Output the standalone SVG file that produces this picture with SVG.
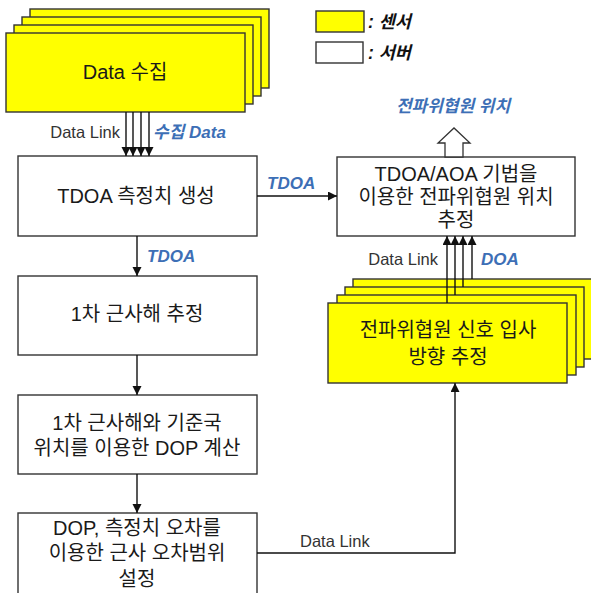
<svg xmlns="http://www.w3.org/2000/svg" width="591" height="593" viewBox="0 0 591 593">
<defs>
<marker id="ah" markerUnits="userSpaceOnUse" markerWidth="10" markerHeight="10" refX="9" refY="4.5" orient="auto">
<path d="M0,0 L9,4.5 L0,9 Z" fill="#111"/>
</marker>
<style>
.box{fill:#fff;stroke:#333;stroke-width:1.4}
.sen{fill:#ffff00;stroke:#333;stroke-width:1.4}
.t{font-family:"Liberation Sans","Noto Sans CJK KR",sans-serif;font-size:20px;fill:#1a1a1a;text-anchor:middle}
.s{font-family:"Liberation Sans","Noto Sans CJK KR",sans-serif;font-size:16.5px;fill:#333}
.b{font-family:"Liberation Sans","Noto Sans CJK KR",sans-serif;font-size:17px;fill:#3d6fb6;font-weight:bold;font-style:italic}
.lg{font-family:"Liberation Sans","Noto Sans CJK KR",sans-serif;font-size:17.5px;fill:#111;font-weight:bold;font-style:italic}
.c{fill:none;stroke:#111;stroke-width:1.4}
</style>
</defs>
<rect width="591" height="593" fill="#fff"/>

<g id="legend">
<rect x="316" y="11" width="48" height="21" class="sen"/>
<text x="368" y="28" class="lg">: 센서</text>
<rect x="316" y="42" width="47" height="21" class="box"/>
<text x="368" y="59" class="lg">: 서버</text>
</g>

<g id="data-collect">
<rect x="30" y="9" width="239" height="79" class="sen"/>
<rect x="22" y="17" width="239" height="79" class="sen"/>
<rect x="14" y="25" width="239" height="79" class="sen"/>
<rect x="6" y="33" width="239" height="79" class="sen"/>
<text x="125" y="79" class="t">Data 수집</text>
</g>

<g id="tdoa-gen">
<rect x="18" y="156" width="239" height="80" class="box"/>
<text x="136" y="203" class="t">TDOA 측정치 생성</text>
</g>

<g id="first-approx">
<rect x="18" y="276" width="239" height="79" class="box"/>
<text x="137" y="321" class="t">1차 근사해 추정</text>
</g>

<g id="dop-calc">
<rect x="18" y="395" width="239" height="79" class="box"/>
<text x="137" y="430" class="t">1차 근사해와 기준국</text>
<text x="137" y="455" class="t">위치를 이용한 DOP 계산</text>
</g>

<g id="error-range">
<rect x="18" y="513" width="239" height="90" class="box"/>
<text x="137" y="535" class="t">DOP, 측정치 오차를</text>
<text x="137" y="560" class="t">이용한 근사 오차범위</text>
<text x="137" y="586" class="t">설정</text>
</g>

<g id="position-est">
<rect x="337" y="157" width="238" height="79" class="box"/>
<text x="456" y="181" class="t">TDOA/AOA 기법을</text>
<text x="456" y="204" class="t">이용한 전파위협원 위치</text>
<text x="456" y="227" class="t">추정</text>
</g>

<g id="doa-est">
<rect x="353" y="279" width="239" height="80" class="sen"/>
<rect x="345" y="287" width="239" height="80" class="sen"/>
<rect x="337" y="295" width="239" height="80" class="sen"/>
<rect x="328" y="303" width="239" height="80" class="sen"/>
<text x="448" y="337" class="t">전파위협원 신호 입사</text>
<text x="448" y="364" class="t">방향 추정</text>
</g>

<g id="connectors">
<line x1="126" y1="112" x2="126" y2="156" class="c" marker-end="url(#ah)"/>
<line x1="133" y1="112" x2="133" y2="156" class="c" marker-end="url(#ah)"/>
<line x1="141" y1="112" x2="141" y2="156" class="c" marker-end="url(#ah)"/>
<line x1="149" y1="112" x2="149" y2="156" class="c" marker-end="url(#ah)"/>
<text x="120" y="138" class="s" text-anchor="end">Data Link</text>
<text x="153" y="138" class="b">수집 Data</text>

<line x1="137" y1="236" x2="137" y2="276" class="c" marker-end="url(#ah)"/>
<text x="147" y="262" class="b">TDOA</text>
<line x1="137" y1="355" x2="137" y2="395" class="c" marker-end="url(#ah)"/>
<line x1="137" y1="474" x2="137" y2="513" class="c" marker-end="url(#ah)"/>

<line x1="257" y1="196" x2="337" y2="196" class="c" marker-end="url(#ah)"/>
<text x="267" y="189" class="b">TDOA</text>

<polyline points="257,553 455,553 455,383" class="c" marker-end="url(#ah)"/>
<text x="300" y="547" class="s">Data Link</text>

<line x1="447" y1="303" x2="447" y2="236" class="c" marker-end="url(#ah)"/>
<line x1="455" y1="295" x2="455" y2="236" class="c" marker-end="url(#ah)"/>
<line x1="463" y1="287" x2="463" y2="236" class="c" marker-end="url(#ah)"/>
<line x1="472" y1="279" x2="472" y2="236" class="c" marker-end="url(#ah)"/>
<text x="438" y="265" class="s" text-anchor="end">Data Link</text>
<text x="481" y="265" class="b">DOA</text>

<polygon points="445,157 445,143 438,143 454,128 470,143 463,143 463,157" fill="#fff" stroke="#333" stroke-width="1.3"/>
<text x="453" y="112" class="b" text-anchor="middle" font-size="18">전파위협원 위치</text>
</g>
</svg>
